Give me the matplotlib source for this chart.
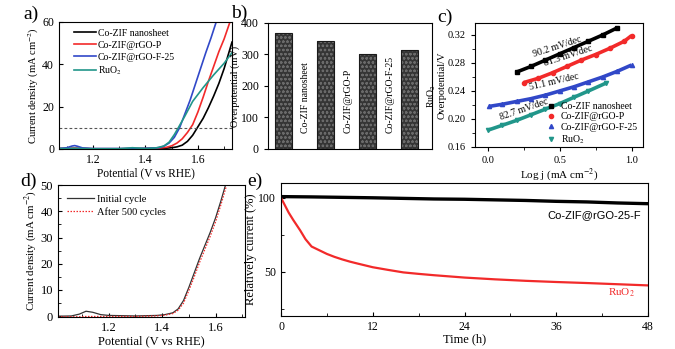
import matplotlib
matplotlib.use("Agg")
import matplotlib.pyplot as plt
from matplotlib.lines import Line2D
from matplotlib.ticker import MultipleLocator

plt.rcParams['font.family'] = ['Liberation Serif', 'DejaVu Serif']
plt.rcParams['mathtext.fontset'] = 'stix'
plt.rcParams['xtick.direction'] = 'in'
plt.rcParams['ytick.direction'] = 'in'
plt.rcParams['axes.linewidth'] = 0.8
plt.rcParams['hatch.linewidth'] = 0.6

# ---------------- data ----------------
# (a) LSV curves: potential (V vs RHE) / current density (mA cm-2)
lsv_black_v = [1.07, 1.10, 1.13, 1.16, 1.20, 1.30, 1.40, 1.45, 1.48, 1.50, 1.52, 1.54, 1.56, 1.58, 1.60, 1.62, 1.64, 1.66, 1.68, 1.70, 1.73]
lsv_black_j = [0.2, 0.2, 0.3, 0.2, 0.1, 0.1, 0.2, 0.3, 0.4, 0.6, 1.0, 1.8, 3.6, 6.5, 10.5, 14.5, 19.5, 25.0, 31.0, 38.0, 50.5]
lsv_red_v = [1.07, 1.10, 1.13, 1.16, 1.20, 1.30, 1.40, 1.45, 1.48, 1.50, 1.52, 1.54, 1.56, 1.58, 1.60, 1.62, 1.64, 1.66, 1.68, 1.70, 1.725]
lsv_red_j = [0.2, 0.2, 0.3, 0.2, 0.1, 0.1, 0.2, 0.4, 0.8, 1.5, 2.8, 4.8, 7.8, 11.5, 17.5, 24.5, 32.0, 39.0, 46.0, 52.0, 61.0]
lsv_blue_v = [1.07, 1.10, 1.12, 1.13, 1.14, 1.16, 1.20, 1.30, 1.40, 1.45, 1.47, 1.49, 1.51, 1.53, 1.55, 1.57, 1.59, 1.61, 1.63, 1.65, 1.675]
lsv_blue_j = [0.2, 0.6, 1.4, 1.6, 1.3, 0.5, 0.2, 0.2, 0.3, 0.6, 1.3, 2.8, 5.5, 10.0, 16.5, 23.0, 30.5, 38.0, 45.5, 52.5, 62.0]
lsv_teal_v = [1.07, 1.10, 1.13, 1.16, 1.20, 1.30, 1.35, 1.40, 1.44, 1.47, 1.49, 1.51, 1.525, 1.55, 1.58, 1.62, 1.66, 1.70, 1.73]
lsv_teal_j = [0.2, 0.2, 0.3, 0.2, 0.1, 0.1, 0.6, 0.2, 0.5, 1.4, 3.2, 6.8, 10.0, 15.5, 22.5, 29.0, 35.0, 40.5, 45.5]

# (b) overpotential at 10 mA cm-2
catalysts = ['Co-ZIF nanosheet', 'Co-ZIF@rGO-P', 'Co-ZIF@rGO-F-25', 'RuO$_2$']
overpotential = [368, 343, 301, 314]

# (c) Tafel data: log j / overpotential (V)
tafel_black_x = [0.20, 0.30, 0.40, 0.50, 0.60, 0.70, 0.80, 0.90]
tafel_black_y = [0.267, 0.275, 0.284, 0.293, 0.302, 0.311, 0.320, 0.330]
tafel_red_x = [0.25, 0.35, 0.45, 0.55, 0.65, 0.75, 0.85, 0.95, 1.00]
tafel_red_y = [0.252, 0.258, 0.266, 0.275, 0.284, 0.292, 0.301, 0.311, 0.319]
tafel_blue_x = [0.01, 0.10, 0.20, 0.30, 0.40, 0.50, 0.60, 0.70, 0.80, 0.90, 1.00]
tafel_blue_y = [0.218, 0.221, 0.225, 0.229, 0.234, 0.240, 0.246, 0.253, 0.260, 0.268, 0.277]
tafel_teal_x = [0.00, 0.10, 0.20, 0.30, 0.40, 0.50, 0.60, 0.70, 0.82]
tafel_teal_y = [0.184, 0.191, 0.198, 0.206, 0.214, 0.222, 0.231, 0.240, 0.251]
tafel_slopes = ['90.2 mV/dec', '81.3 mV/dec', '51.1 mV/dec', '82.7 mV/dec']

# (d) LSV before / after 500 cycles
cyc_v = [1.01, 1.06, 1.09, 1.115, 1.14, 1.17, 1.20, 1.25, 1.30, 1.38, 1.41, 1.44, 1.46, 1.48, 1.50, 1.52, 1.54, 1.56, 1.58, 1.60, 1.62, 1.64]
cyc_init = [0.0, 0.1, 0.8, 1.9, 1.5, 0.6, 0.3, 0.2, 0.1, 0.3, 0.6, 1.3, 2.8, 6.0, 11.0, 16.5, 22.0, 27.0, 32.0, 37.5, 44.0, 51.0]
cyc_after = [-0.2, -0.2, -0.2, -0.1, -0.1, -0.1, -0.1, -0.1, -0.1, 0.1, 0.4, 1.0, 2.3, 5.0, 9.8, 15.0, 20.5, 25.5, 30.5, 36.0, 42.5, 49.5]

# (e) chronoamperometry: time (h) / relative current (%)
t_zif = [0, 4, 8, 12, 16, 20, 24, 28, 32, 36, 40, 44, 48]
i_zif = [100.8, 100.6, 100.3, 100.0, 99.6, 99.2, 99.0, 98.6, 98.2, 97.6, 97.2, 96.5, 96.0]
t_ruo2 = [0, 0.5, 1, 1.6, 2.5, 3.2, 4, 5, 6, 7, 8, 9, 10, 12, 14, 16, 18, 20, 24, 28, 32, 36, 40, 44, 48]
i_ruo2 = [100, 95, 90, 85, 78, 72, 67, 64.5, 62, 60, 58.3, 56.8, 55.5, 53, 51.2, 49.5, 48.5, 47.6, 46, 44.8, 43.8, 43, 42.3, 41.5, 40.7]

C_BLACK = '#000000'
C_RED = '#f22a2a'
C_BLUE = '#3148c8'
C_TEAL = '#21968a'

fig = plt.figure(figsize=(6.75, 3.49), dpi=100)

TCK = 8.5

def panel_letter(x, y, s):
    fig.text(x / 675, 1 - y / 349, s, fontsize=14, ha='left', va='center')

# ---------------- (a) ----------------
ax = fig.add_axes([0.0874, 0.5731, 0.2563, 0.3639])
ax.plot(lsv_black_v, lsv_black_j, color=C_BLACK, lw=1.2, label='Co-ZIF nanosheet')
ax.plot(lsv_red_v, lsv_red_j, color=C_RED, lw=1.2, label='Co-ZIF@rGO-P')
ax.plot(lsv_blue_v, lsv_blue_j, color=C_BLUE, lw=1.2, label='Co-ZIF@rGO-F-25')
ax.plot(lsv_teal_v, lsv_teal_j, color=C_TEAL, lw=1.2, label='RuO$_2$')
ax.axhline(10, color='#555555', lw=0.8, ls=(0, (2.5, 2)))
ax.set_xlim(1.07, 1.73)
ax.set_ylim(0, 60)
ax.xaxis.set_major_locator(MultipleLocator(0.2))
ax.xaxis.set_minor_locator(MultipleLocator(0.1))
ax.yaxis.set_major_locator(MultipleLocator(20))
ax.tick_params(labelsize=TCK, length=3)
ax.tick_params(which='minor', length=2)
ax.set_xlabel('Potential (V vs RHE)', fontsize=8.3, labelpad=1)
ax.set_ylabel('Current density (mA cm$^{-2}$)', fontsize=7.6, labelpad=1)
ax.legend(loc='upper left', frameon=False, fontsize=7, handlelength=2.2,
          handletextpad=0.2, labelspacing=0.3, borderaxespad=0.3,
          bbox_to_anchor=(0.05, 1.0))
panel_letter(23, 14, 'a)')

# ---------------- (b) ----------------
ax = fig.add_axes([0.397, 0.5731, 0.243, 0.361])
xpos = list(range(len(catalysts)))
ax.bar(xpos, overpotential, width=0.4, color='#353535', edgecolor='#6a6a6a',
       hatch='oooo', linewidth=0)
ax.bar(xpos, overpotential, width=0.4, fill=False, edgecolor='#1a1a1a', linewidth=0.8)
label_base = [52, 52, 52, 130]
for i, name in enumerate(catalysts):
    ax.text(i + 0.53, label_base[i], name, rotation=90, ha='center', va='bottom', fontsize=7)
ax.set_xlim(-0.37, 3.54)
ax.set_ylim(0, 400)
ax.set_xticks([])
ax.yaxis.set_major_locator(MultipleLocator(100))
ax.tick_params(axis='y', labelsize=TCK, length=3, direction='out')
ax.set_ylabel('Overpotential (mV)', fontsize=7.4, labelpad=1)
panel_letter(231, 13, 'b)')

# ---------------- (c) ----------------
ax = fig.add_axes([0.7037, 0.5788, 0.2489, 0.3553])
series_c = [
    (tafel_black_x, tafel_black_y, C_BLACK, 's', 'Co-ZIF nanosheet'),
    (tafel_red_x, tafel_red_y, C_RED, 'o', 'Co-ZIF@rGO-P'),
    (tafel_blue_x, tafel_blue_y, C_BLUE, '^', 'Co-ZIF@rGO-F-25'),
    (tafel_teal_x, tafel_teal_y, C_TEAL, 'v', 'RuO$_2$'),
]
handles = []
for xs, ys, col, mk, lab in series_c:
    ax.plot(xs, ys, color=col, lw=2.6, solid_capstyle='butt')
    ax.plot(xs, ys, color=col, lw=0, marker=mk, ms=3)
    handles.append(Line2D([], [], color=col, lw=0, marker=mk, ms=3, label=lab))
ax.text(0.48, 0.303, tafel_slopes[0], fontsize=7, rotation=18, ha='center', va='center')
ax.text(0.56, 0.290, tafel_slopes[1], fontsize=7, rotation=18, ha='center', va='center')
ax.text(0.46, 0.253, tafel_slopes[2], fontsize=7, rotation=13, ha='center', va='center')
ax.text(0.25, 0.213, tafel_slopes[3], fontsize=7, rotation=19, ha='center', va='center')
ax.legend(handles=handles, loc='lower right', frameon=False, fontsize=7,
          handlelength=1.2, handletextpad=0.4, labelspacing=0.15, borderaxespad=0.1,
          bbox_to_anchor=(1.0, -0.03))
ax.set_xlim(-0.09, 1.08)
ax.set_ylim(0.16, 0.337)
ax.xaxis.set_major_locator(MultipleLocator(0.5))
ax.xaxis.set_minor_locator(MultipleLocator(0.25))
ax.yaxis.set_major_locator(MultipleLocator(0.04))
ax.yaxis.set_minor_locator(MultipleLocator(0.02))
ax.set_xticks([0.0, 0.5, 1.0])
ax.set_xticklabels(['0.0', '0.5', '1.0'])
ax.tick_params(labelsize=7.5, length=3, direction='out')
ax.tick_params(which='minor', length=2, direction='out')
ax.set_xlabel('Log j (mA cm$^{-2}$)', fontsize=8, labelpad=1)
ax.set_ylabel('Overpotential/V', fontsize=7.5, labelpad=1)
panel_letter(437, 17, 'c)')

# ---------------- (d) ----------------
ax = fig.add_axes([0.0859, 0.0917, 0.277, 0.378])
ax.plot(cyc_v, cyc_init, color='#333333', lw=0.9, label='Initial cycle')
ax.plot(cyc_v, cyc_after, color=C_RED, lw=0.9, ls=(0, (1.2, 1.2)), label='After 500 cycles')
ax.set_xlim(1.01, 1.71)
ax.set_ylim(-0.3, 50)
ax.xaxis.set_major_locator(MultipleLocator(0.2))
ax.xaxis.set_minor_locator(MultipleLocator(0.1))
ax.yaxis.set_major_locator(MultipleLocator(10))
ax.yaxis.set_minor_locator(MultipleLocator(5))
ax.tick_params(labelsize=9, length=3)
ax.tick_params(which='minor', length=2)
ax.set_xlabel('Potential (V vs RHE)', fontsize=9, labelpad=1)
ax.set_ylabel('Current density (mA cm$^{-2}$)', fontsize=7.8, labelpad=1)
ax.legend(loc='upper left', frameon=False, fontsize=7.5, handlelength=2.6,
          handletextpad=0.2, labelspacing=0.35, borderaxespad=0.5)
panel_letter(20, 181, 'd)')

# ---------------- (e) ----------------
ax = fig.add_axes([0.4163, 0.0946, 0.5437, 0.381])
ax.plot(t_zif, i_zif, color=C_BLACK, lw=2.4)
ax.plot(t_ruo2, i_ruo2, color=C_RED, lw=1.6)
ax.text(41, 88, 'Co-ZIF@rGO-25-F', fontsize=8, ha='center', va='center',
        family=['Liberation Sans', 'DejaVu Sans'])
ax.text(44.5, 36, 'RuO$_2$', fontsize=8, color=C_RED, ha='center', va='center')
ax.set_xlim(0, 48)
ax.set_ylim(20, 110)
ax.xaxis.set_major_locator(MultipleLocator(12))
ax.xaxis.set_minor_locator(MultipleLocator(6))
ax.yaxis.set_major_locator(MultipleLocator(50))
ax.yaxis.set_minor_locator(MultipleLocator(25))
ax.tick_params(labelsize=8.5, length=3)
ax.tick_params(which='minor', length=2)
ax.set_xlabel('Time (h)', fontsize=9, labelpad=0)
ax.set_ylabel('Relatively current (%)', fontsize=9, labelpad=1)
panel_letter(247, 181, 'e)')

fig.savefig('out.png', dpi=100)
